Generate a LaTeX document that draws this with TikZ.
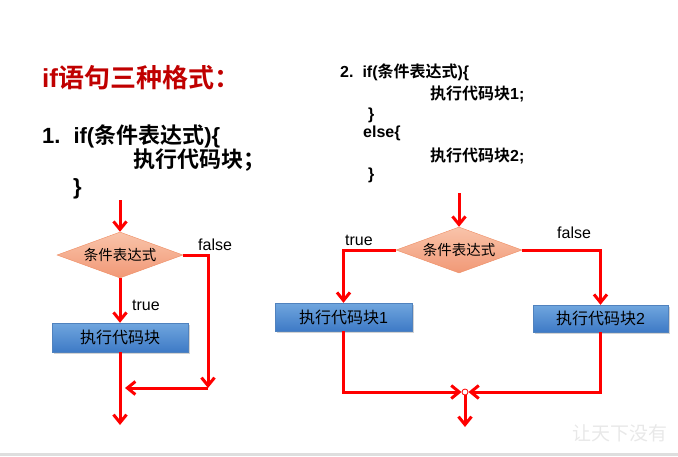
\documentclass[tikz,border=0pt]{standalone}
\usepackage{fontspec}
\setmainfont{Liberation Sans}
\newfontfamily\cjk{Noto Sans CJK SC}[BoldFont={Noto Sans CJK SC Bold}]
\usepackage{tikz}
\usetikzlibrary{shapes.geometric, arrows.meta, positioning, shadows}
\definecolor{TitleRed}{RGB}{192,0,0}
\definecolor{FlowRed}{RGB}{255,0,0}
\definecolor{CondTop}{RGB}{249,196,170}
\definecolor{CondBot}{RGB}{241,152,118}
\definecolor{CondLine}{RGB}{238,140,98}
\definecolor{BlkTop}{RGB}{112,166,222}
\definecolor{BlkBot}{RGB}{62,122,198}
\definecolor{BlkLine}{RGB}{80,130,190}
\definecolor{StripGray}{RGB}{222,222,222}
\newcommand{\zh}[1]{{\cjk #1}}

\begin{document}
\begin{tikzpicture}[x=1pt, y=-1pt,
  cond/.style={diamond, aspect=2.74, minimum width=126pt, minimum height=46pt,
    inner sep=0pt, draw=CondLine, thin, top color=CondTop, bottom color=CondBot,
    font=\fontsize{14.5}{16}\cjk},
  blk/.style={rectangle, inner sep=0pt, draw=BlkLine, thin,
    top color=BlkTop, bottom color=BlkBot,
    drop shadow={shadow xshift=1.5pt, shadow yshift=-1.5pt, opacity=0.35},
    font=\fontsize{16}{18}\selectfont},
  flow/.style={draw=FlowRed, line width=3pt,
    -{Straight Barb[length=8pt, width=13pt]}},
  lbl/.style={font=\fontsize{16}{18}\selectfont, inner sep=0pt},
  code/.style={anchor=base west, inner sep=0pt, font=\bfseries}]
\useasboundingbox (0,0) rectangle (678,456);

% Bottom strip
\fill[StripGray] (0,453) rectangle (678,456);

% Title and first form
\node[code, TitleRed, font=\fontsize{26}{30}\selectfont\bfseries] (title) at (42,87)
  {if\zh{语句三种格式：}};
\node[code, font=\fontsize{22}{26}\selectfont\bfseries] (fa1) at (42,143)
  {1.\hspace{13pt}if(\zh{条件表达式})\{};
\node[code, font=\fontsize{22}{26}\selectfont\bfseries] (fa2) at (133,167)
  {\zh{执行代码块；}};
\node[code, font=\fontsize{22}{26}\selectfont\bfseries] (fa3) at (73,194) {\}};

% Second form
\node[code, font=\fontsize{16}{18}\selectfont\bfseries] (fb1) at (340,77)
  {2.\hspace{9pt}if(\zh{条件表达式})\{};
\node[code, font=\fontsize{16}{18}\selectfont\bfseries] (fb2) at (430,99)
  {\zh{执行代码块}1;};
\node[code, font=\fontsize{16}{18}\selectfont\bfseries] (fb3) at (368,119) {\}};
\node[code, font=\fontsize{16}{18}\selectfont\bfseries] (fb4) at (363,137) {else\{};
\node[code, font=\fontsize{16}{18}\selectfont\bfseries] (fb5) at (430,161)
  {\zh{执行代码块}2;};
\node[code, font=\fontsize{16}{18}\selectfont\bfseries] (fb6) at (368,179) {\}};

% Left flowchart
\node[cond] (c1) at (120,255) {条件表达式};
\node[blk, minimum width=136pt, minimum height=29pt] (b1) at (120,337.5)
  {\zh{执行代码块}};
\coordinate (s1) at (120,200);
\coordinate (f1) at (208,388);
\coordinate (m1) at (125,388);
\coordinate (e1) at (120,425);
\draw[flow] (s1) -- (c1.north);
\draw[flow] (c1.south) -- (b1.north);
\draw[flow] (c1.east) -| (f1);
\draw[flow] (f1) -- (m1);
\draw[flow] (b1.south) -- (e1);
\node[lbl, anchor=west] (t1) at (132,305) {true};
\node[lbl, anchor=west] (n1) at (198,245) {false};

% Right flowchart
\node[cond] (c2) at (459,250) {条件表达式};
\node[blk, minimum width=137pt, minimum height=28pt] (b21) at (343.5,317)
  {\zh{执行代码块}1};
\node[blk, minimum width=135pt, minimum height=27pt] (b22) at (600.5,318.5)
  {\zh{执行代码块}2};
\node[circle, draw=FlowRed, fill=white, line width=0.8pt, minimum size=6pt,
  inner sep=0pt] (j) at (465,392) {};
\coordinate (s2) at (459,193);
\coordinate (e2) at (465,427);
\draw[flow] (s2) -- (c2.north);
\draw[flow] (c2.west) -| (b21.north);
\draw[flow] (c2.east) -| (b22.north);
\draw[flow] (b21.south) |- (j.west);
\draw[flow] (b22.south) |- (j.east);
\draw[flow] (j.south) -- (e2);
\node[lbl, anchor=west] (t2) at (345,240) {true};
\node[lbl, anchor=west] (n2) at (557,233) {false};

% Watermark
\node[anchor=west, inner sep=0pt, black!9, font=\fontsize{19}{20}\cjk]
  (wm) at (572,433) {让天下没有};
\end{tikzpicture}
\end{document}
